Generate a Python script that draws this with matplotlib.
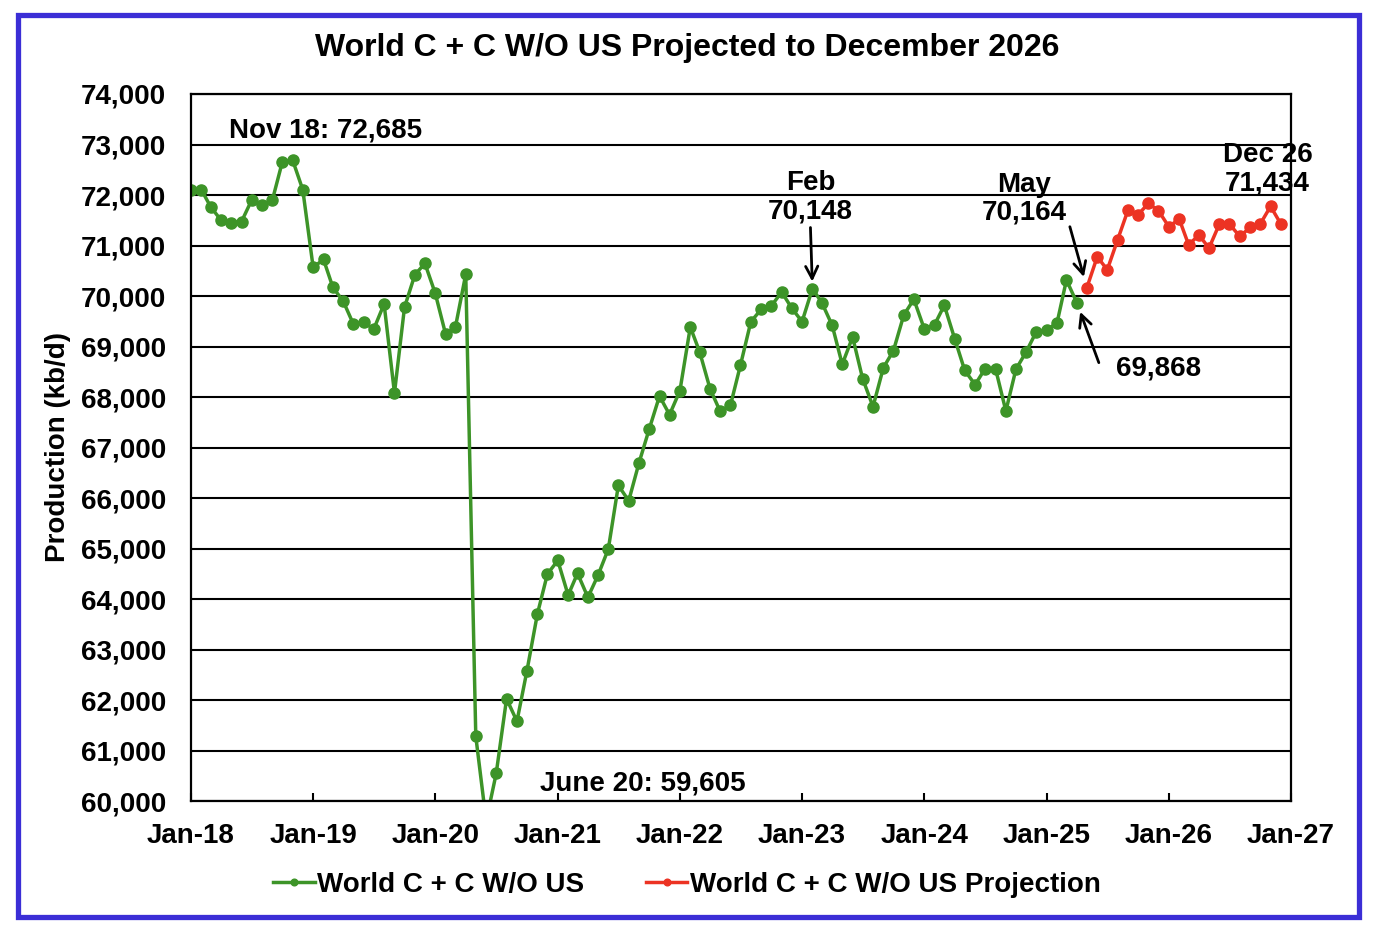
import matplotlib
matplotlib.use("Agg")
import matplotlib.pyplot as plt
import matplotlib.dates as mdates
import pandas as pd
from matplotlib.patches import Rectangle

plt.rcParams['font.family'] = ['Liberation Sans', 'DejaVu Sans']
plt.rcParams['font.weight'] = 'bold'

# monthly production, kb/d
hist_start = "2018-01-01"
hist_values = [
    72105, 72105, 71763, 71500, 71454, 71474, 71895, 71803, 71895, 72658, 72685, 72105,  # 2018
    70566, 70724, 70171, 69895, 69447, 69487, 69342, 69842, 68079, 69776, 70421, 70645,  # 2019
    70050, 69240, 69380, 70430, 61281, 59605, 60545, 62024, 61578, 62583, 63701, 64494,  # 2020
    64763, 64076, 64508, 64034, 64466, 64989, 66249, 65945, 66702, 67360, 68018, 67650,  # 2021
    68125, 69384, 68893, 68163, 67720, 67835, 68634, 69492, 69736, 69802, 70079, 69762,  # 2022
    69492, 70148, 69868, 69419, 68647, 69188, 68363, 67809, 68581, 68917, 69624, 69934,  # 2023
    69353, 69432, 69815, 69155, 68528, 68244, 68561, 68561, 67723, 68548, 68898, 69294,  # 2024
    69320, 69472, 70317, 69868,                                                          # 2025
]
proj_start = "2025-05-01"
proj_values = [
    70164, 70777, 70520, 71114, 71703, 71610, 71835, 71689,
    71372, 71524, 71015, 71207, 70949, 71425, 71425, 71180, 71359, 71425, 71775, 71434,
]
hist_label = "World C + C W/O US"
proj_label = "World C + C W/O US Projection"
title = "World C + C W/O US Projected to December 2026"

hist_dates = pd.date_range(hist_start, periods=len(hist_values), freq="MS")
proj_dates = pd.date_range(proj_start, periods=len(proj_values), freq="MS")

green = "#3d9428"
red = "#ec3323"
px = 0.72  # points per pixel at dpi 100

fig = plt.figure(figsize=(13.74, 9.34), dpi=100)
ax = fig.add_axes([191/1374, 1 - 801/934, 1100/1374, 707/934])

ax.plot(hist_dates, hist_values, color=green, lw=2.5, marker="o", ms=8, label=hist_label)
ax.plot(proj_dates, proj_values, color=red, lw=2.5, marker="o", ms=8, label=proj_label)

ax.set_xlim(pd.Timestamp("2018-01-01"), pd.Timestamp("2027-01-01"))
ax.set_ylim(60000, 74000)
ax.set_yticks(range(60000, 74001, 1000))
ax.yaxis.set_major_formatter(matplotlib.ticker.StrMethodFormatter("{x:,.0f}"))
ax.xaxis.set_major_locator(mdates.YearLocator())
ax.xaxis.set_major_formatter(mdates.DateFormatter("%b-%y"))
ax.grid(True, axis="y", color="black", lw=1.5)
ax.set_axisbelow(True)
for s in ax.spines.values():
    s.set_linewidth(1.6)
ax.tick_params(axis="x", direction="in", length=6, width=1.5, labelsize=20, pad=16)
ax.tick_params(axis="y", length=0, labelsize=20, pad=18)
ax.set_ylabel("Production (kb/d)", fontsize=20, fontweight="bold", labelpad=7)

txt = dict(fontsize=20, fontweight="bold", ha="center", va="center",
           textcoords="offset points", linespacing=1.12)
arrow = dict(arrowstyle="->", color="black", lw=2, mutation_scale=22, shrinkA=0)

# peak and trough labels
ax.annotate("Nov 18: 72,685", xy=(hist_dates[10], hist_values[10]),
            xytext=(33*px, 30*px), **txt)
ax.annotate("June 20: 59,605", xy=(hist_dates[29], hist_values[29]),
            xytext=(157*px, 37*px), annotation_clip=False, **txt)

# Feb 23
ax.annotate("Feb\n70,148", xy=(hist_dates[61], hist_values[61]),
            xytext=(-2*px, 91*px), **txt)
ax.annotate("", xy=(hist_dates[61], hist_values[61]), xytext=(-2*px, 61*px),
            textcoords="offset points", arrowprops=dict(arrow, shrinkB=5))

# May 25 projection start
ax.annotate("May\n70,164", xy=(proj_dates[0], proj_values[0]),
            xytext=(-63*px, 89*px), **txt)
ax.annotate("", xy=(proj_dates[0], proj_values[0]), xytext=(-17*px, 61*px),
            textcoords="offset points", arrowprops=dict(arrow, shrinkB=8))

# last actual month
ax.annotate("69,868", xy=(hist_dates[-1], hist_values[-1]),
            xytext=(82*px, -66*px), **txt)
ax.annotate("", xy=(hist_dates[-1], hist_values[-1]), xytext=(22*px, -60*px),
            textcoords="offset points", arrowprops=dict(arrow, shrinkB=7))

# end of projection
ax.annotate("Dec 26\n71,434", xy=(proj_dates[-1], proj_values[-1]),
            xytext=(-13*px, 54*px), **txt)

fig.suptitle(title, fontsize=23, fontweight="bold", x=0.5, y=1 - 48/934, va="center")
fig.legend(loc="center", bbox_to_anchor=(0.5, 1 - 885/934), ncol=2, frameon=False,
           fontsize=20, handlelength=1.5, handletextpad=0.1, columnspacing=2.2,
           markerscale=0.6)

fig.patches.append(Rectangle((18/1374, 1 - 917/934), 1341/1374, 902/934,
                             transform=fig.transFigure, fill=False,
                             edgecolor="#3b2ed6", lw=3.8))

fig.savefig("out.png", dpi=100)
